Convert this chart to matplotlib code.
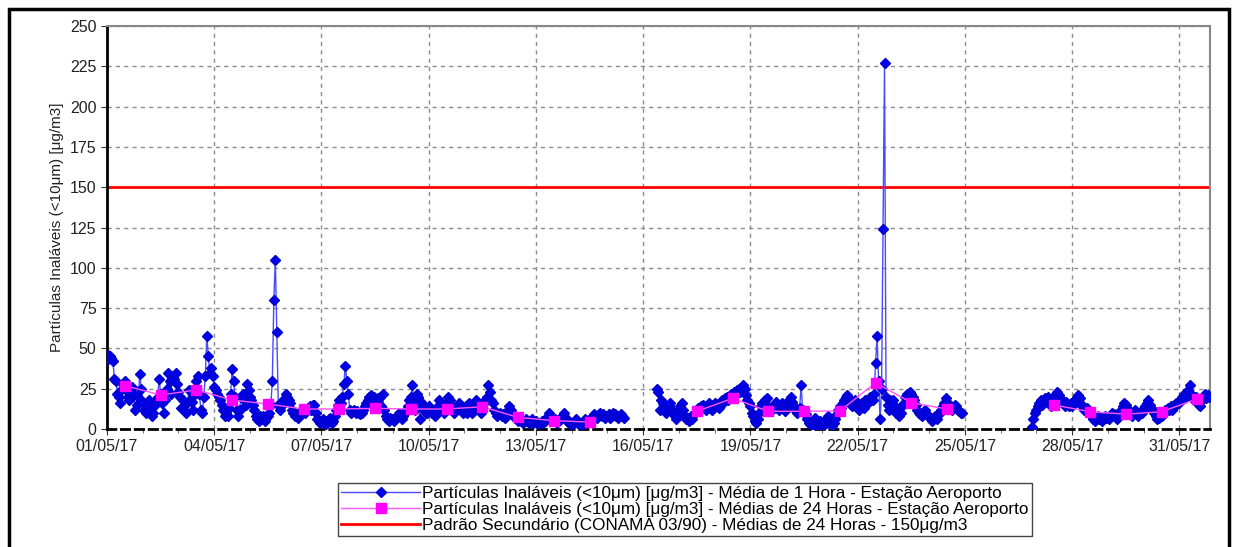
import numpy as np
import pandas as pd
import matplotlib
matplotlib.use('Agg')
import matplotlib.pyplot as plt
import matplotlib.dates as mdates
from matplotlib.patches import Rectangle

plt.rcParams['font.family'] = ['Liberation Sans', 'DejaVu Sans']

# PM10 - média de 1 hora, Estação Aeroporto (maio/2017), um vetor por dia (24 h)
N = None
may_01 = [43, 46, 45, 44, 42, 31, 30, 22, 20, 16, 25, 28, 30, 24, 20, 18, 22, 26, 22, 12, 15, 20, 34, 25]
may_02 = [17, 12, 10, 14, 18, 12, 8, 10, 15, 18, 20, 31, 22, 16, 10, 18, 25, 35, 30, 22, 33, 31, 35, 28]
may_03 = [23, 20, 13, 18, 12, 10, 16, 24, 18, 17, 12, 22, 30, 33, 22, 12, 10, 20, 33, 58, 45, 35, 38, 33]
may_04 = [26, 24, 22, 20, 18, 15, 12, 8, 10, 8, 13, 22, 37, 30, 20, 12, 8, 12, 20, 22, 18, 15, 28, 24]
may_05 = [20, 18, 15, 12, 8, 6, 5, 8, 6, 8, 5, 7, 8, 10, 15, 30, 80, 105, 60, 15, 12, 14, 18, 16]
may_06 = [22, 20, 18, 16, 12, 10, 8, 8, 7, 9, 10, 12, 11, 10, 12, 13, 14, 12, 15, 15, 10, 6, 5, 4]
may_07 = [5, 6, 4, 3, 5, 6, 7, 4, 5, 8, 12, 15, 18, 16, 20, 28, 39, 30, 22, 12, 10, 11, 12, 10]
may_08 = [11, 10, 9, 10, 12, 14, 16, 18, 20, 21, 19, 20, 18, 17, 19, 20, 14, 22, 12, 8, 6, 5, 7, 6]
may_09 = [6, 5, 7, 8, 10, 8, 6, 8, 10, 12, 14, 18, 20, 27, 16, 12, 22, 20, 6, 17, 14, 12, 10, 10]
may_10 = [14, 12, 10, 12, 8, 10, 14, 18, 16, 12, 10, 14, 16, 20, 18, 14, 12, 10, 12, 14, 16, 13, 12, 10]
may_11 = [12, 14, 10, 16, 12, 10, 13, 15, 18, 14, 12, 10, 14, 16, 18, 20, 27, 23, 18, 16, 12, 10, 8, 9]
may_12 = [10, 8, 9, 7, 10, 12, 14, 12, 10, 8, 7, 6, 5, 6, 5, 4, 5, 6, 5, 4, 5, 6, 4, 5]
may_13 = [5, 4, 3, 4, 5, 4, 5, 6, 8, 10, 7, 6, 5, 6, 4, 5, 7, 6, 8, 10, 7, 5, 4, 3]
may_14 = [4, 3, 5, 6, 4, 3, 2, 4, 5, 6, 4, 5, 6, 7, 8, 9, 8, 7, 9, 10, 8, 9, 7, 8]
may_15 = [8, 9, 7, 8, 10, 9, 8, 7, 8, 9, 8, 7, N, N, N, N, N, N, N, N, N, N, N, N]
may_16 = [N, N, N, N, N, N, N, N, N, 25, 23, 12, 18, 16, 12, 10, 11, 14, 16, 12, 10, 8, 6, 8]
may_17 = [12, 14, 16, 12, 8, 6, 7, 5, 8, 6, 9, 10, 12, 13, 12, 14, 15, 13, 12, 14, 16, 14, 12, 15]
may_18 = [16, 14, 15, 13, 16, 18, 17, 19, 20, 18, 20, 22, 21, 23, 22, 24, 25, 23, 24, 27, 25, 21, 18, 16]
may_19 = [14, 10, 8, 5, 4, 6, 10, 14, 16, 15, 18, 19, 14, 12, 11, 13, 15, 17, 13, 12, 14, 16, 13, 11]
may_20 = [13, 15, 18, 20, 17, 14, 12, 10, 11, 13, 27, 12, 10, 9, 6, 4, 3, 2, 5, 7, 4, 2, 3, 5]
may_21 = [3, 2, 4, 6, 8, 5, 3, 2, 4, 6, 9, 12, 14, 13, 16, 18, 20, 21, 19, 17, 14, 16, 18, 15]
may_22 = [14, 12, 15, 16, 13, 18, 17, 16, 20, 19, 18, 22, 41, 58, 30, 6, 25, 124, 227, 20, 15, 12, 18, 14]
may_23 = [18, 14, 10, 12, 8, 10, 14, 16, 20, 22, 21, 23, 22, 20, 18, 15, 12, 10, 9, 8, 10, 12, 9, 8]
may_24 = [8, 6, 5, 7, 8, 6, 9, 10, 12, 14, 16, 19, 17, 15, 14, 12, 13, 15, 14, 12, 11, 10, 10, N]
may_25 = [N] * 24
may_26 = [N] * 21 + [1, 6, 10]
may_27 = [12, 14, 16, 18, 15, 17, 19, 18, 20, 16, 14, 18, 20, 22, 23, 21, 19, 18, 16, 14, 17, 15, 14, 16]
may_28 = [14, 16, 18, 20, 21, 19, 15, 14, 12, 11, 13, 10, 9, 8, 6, 5, 7, 8, 6, 7, 5, 6, 8, 7]
may_29 = [7, 6, 8, 10, 9, 8, 6, 8, 10, 12, 14, 16, 15, 13, 11, 9, 8, 10, 12, 10, 8, 9, 11, 10]
may_30 = [12, 14, 16, 18, 15, 13, 12, 10, 8, 6, 7, 9, 8, 10, 12, 11, 13, 12, 14, 12, 15, 14, 16, 17]
may_31 = [16, 18, 20, 22, 19, 21, 24, 27, 22, 20, 18, 20, 17, 15, 14, 18, 20, 22, 19, 21, 20]

# médias de 24 horas (um valor por dia, plotado ao meio-dia)
mean_24h = [26.9, 21.1, 24.2, 18, 15.5, 12.4, 12.4, 12.8, 12.4, 12.4, 13.8, 7.2, 5.2, 4.3, N, N,
            11, 19, 11, 11, 11.2, 28.7, 16.3, 12.4, N, N, 14.9, 10.7, 9.2, 10.7, 18.7]

padrao = 150

lbl_1h = 'Partículas Inaláveis (<10μm) [μg/m3] - Média de 1 Hora - Estação Aeroporto'
lbl_24h = 'Partículas Inaláveis (<10μm) [μg/m3] - Médias de 24 Horas - Estação Aeroporto'
lbl_pad = 'Padrão Secundário (CONAMA 03/90) - Médias de 24 Horas - 150μg/m3'

days = [may_01, may_02, may_03, may_04, may_05, may_06, may_07, may_08, may_09, may_10,
        may_11, may_12, may_13, may_14, may_15, may_16, may_17, may_18, may_19, may_20,
        may_21, may_22, may_23, may_24, may_25, may_26, may_27, may_28, may_29, may_30, may_31]
hourly = np.array([np.nan if v is None else v for d in days for v in d], dtype=float)
t_hourly = pd.date_range('2017-05-01 00:00', periods=len(hourly), freq='h')

mean_arr = np.array([np.nan if v is None else v for v in mean_24h], dtype=float)
t_mean = pd.date_range('2017-05-01 12:00', periods=len(mean_arr), freq='D')

fig = plt.figure(figsize=(12.35, 5.47), dpi=100)
ax = fig.add_axes([107 / 1235, 1 - 429 / 547, (1210 - 107) / 1235, (429 - 26) / 547])

ax.plot(t_hourly, hourly, color='#4a4aff', lw=1, marker='D', ms=5,
        mfc='#0000ee', mec='#0000cc', label=lbl_1h, zorder=3)
ax.plot(t_mean, mean_arr, color='#ff55ff', lw=1, marker='s', ms=6.5,
        mfc='#ff00ff', mec='#ff00ff', label=lbl_24h, zorder=4)
ax.axhline(padrao, color='#ff0000', lw=2, label=lbl_pad, zorder=2)

ax.set_ylim(0, 250)
ax.set_yticks(np.arange(0, 251, 25))
ax.set_xlim(pd.Timestamp('2017-05-01 00:00'), pd.Timestamp('2017-05-31 20:30'))
ax.xaxis.set_major_locator(mdates.DayLocator(bymonthday=range(1, 32, 3)))
ax.xaxis.set_minor_locator(mdates.DayLocator())
ax.xaxis.set_major_formatter(mdates.DateFormatter('%d/%m/%y'))
ax.tick_params(axis='both', which='major', labelsize=11.5, labelcolor='#222222',
               color='#333333', length=4)
ax.tick_params(axis='x', which='minor', length=3, color='#555555')

ax.grid(True, which='major', color='#8c8c8c', linestyle=(0, (3, 3)), lw=1)
ax.set_axisbelow(True)
ax.set_ylabel('Partículas Inaláveis (<10μm) [μg/m3]', fontsize=11, color='#222222')

ax.spines['left'].set_color('black')
ax.spines['left'].set_linewidth(2)
ax.spines['bottom'].set_color('black')
ax.spines['bottom'].set_linewidth(2)
ax.spines['bottom'].set_linestyle((0, (3, 2)))
for s in ['top', 'right']:
    ax.spines[s].set_color('#888888')
    ax.spines[s].set_linewidth(1.5)

leg = fig.legend(loc='upper center', bbox_to_anchor=(685 / 1235, 1 - 474 / 547),
                 fontsize=12.3, handlelength=4.6, handletextpad=0.15, labelspacing=0.05,
                 borderpad=0.2, numpoints=1, fancybox=False, framealpha=1)
leg.get_frame().set_edgecolor('#444444')
leg.get_frame().set_linewidth(1)

# moldura preta da figura
fig.patches.append(Rectangle((9 / 1235, -0.1), (1229 - 9) / 1235, 1.1 - 9 / 547,
                             transform=fig.transFigure, fill=False, ec='black', lw=2.5))

plt.savefig('out.png', dpi=100)
plt.close()
